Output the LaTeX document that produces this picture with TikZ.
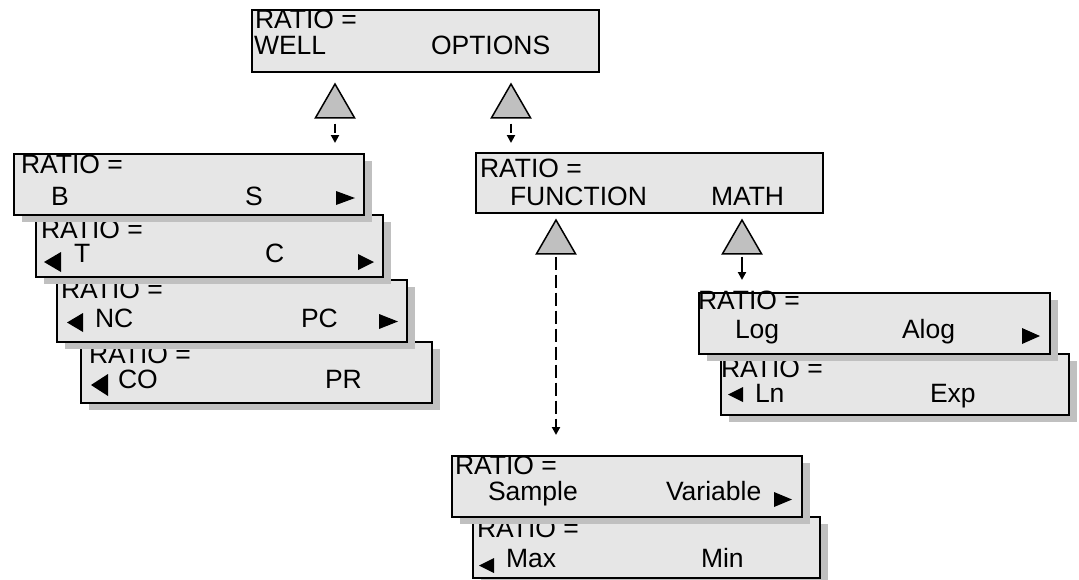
\documentclass[tikz,border=0pt]{standalone}
\usepackage{fontspec}
\setmainfont{Liberation Sans}
\usetikzlibrary{shapes.geometric,shadows,arrows.meta}

\definecolor{panelfill}{RGB}{230,230,230}
\definecolor{shadowgray}{RGB}{192,192,192}
\definecolor{keyfill}{RGB}{192,192,192}

% scroll marks shown on the display panels
\newcommand\tipR[4]{\fill (#1,#2) -- ++(#3,#4/2) -- ++(-#3,#4/2) -- cycle;}
\newcommand\tipL[4]{\fill (#1,#2) -- ++(-#3,#4/2) -- ++(#3,#4/2) -- cycle;}

\tikzset{
  panel/.style={draw, line width=2pt, fill=panelfill, anchor=north west,
    inner sep=0pt, outer sep=0pt, minimum height=61pt},
  shadowed/.style={drop shadow={shadow xshift=8pt, shadow yshift=-7pt,
    fill=shadowgray, opacity=1}},
  lbl/.style={anchor=base west, inner sep=0pt, outer sep=0pt,
    font=\fontsize{26.5}{30}\selectfont},
  key/.style={regular polygon, regular polygon sides=3, minimum size=45pt,
    inner sep=0pt, draw, line width=1.5pt, fill=keyfill},
  shortlink/.style={line width=2pt, dash pattern=on 9pt off 3pt,
    -{Triangle[length=8pt,width=8pt]}},
  longlink/.style={line width=2pt, dash pattern=on 13pt off 5pt,
    -{Triangle[length=8pt,width=8pt]}},
  solidlink/.style={line width=2pt, -{Triangle[length=8pt,width=8pt]}}
}

\begin{document}
\begin{tikzpicture}[x=1pt,y=-1pt]
\useasboundingbox (0,0) rectangle (1079,579);

% top menu
\node[panel, minimum width=347pt, minimum height=62pt] (top) at (252,10) {};
\node[lbl] (topR) at (255,28) {RATIO =};
\node[lbl] (topW) at (254,54.5) {WELL};
\node[lbl] (topO) at (431,54.5) {OPTIONS};

\node[key] (kWell) at (335,106.5) {};
\node[key] (kOpt) at (511,106.5) {};
\coordinate (eWell) at (335,143);
\coordinate (eOpt) at (511,143);
\draw[shortlink] ([yshift=-5pt]kWell.south) -- (eWell);
\draw[shortlink] ([yshift=-5pt]kOpt.south) -- (eOpt);

% well selection panels, stacked
\node[panel, shadowed, minimum width=351pt] (pCO) at (81,342) {};
\node[lbl] (pCOr) at (89,363) {RATIO =};
\node[lbl] (pCOa) at (118,388) {CO};
\node[lbl] (pCOb) at (325,388) {PR};
\tipL{108}{374}{17}{22}

\node[panel, shadowed, minimum width=350pt, minimum height=62pt] (pNC) at (57,280) {};
\node[lbl] (pNCr) at (61,298) {RATIO =};
\node[lbl] (pNCa) at (95,327) {NC};
\node[lbl] (pNCb) at (301,327) {PC};
\tipL{83}{313}{16}{19}
\tipR{379}{314}{19}{15}

\node[panel, shadowed, minimum width=347pt, minimum height=62pt] (pT) at (36,215) {};
\node[lbl] (pTr) at (41,238) {RATIO =};
\node[lbl] (pTa) at (74,262) {T};
\node[lbl] (pTb) at (265,262) {C};
\tipL{61}{252}{17}{20}
\tipR{358}{254}{16}{16}

\node[panel, shadowed, minimum width=350pt] (pB) at (14,154) {};
\node[lbl] (pBr) at (21,173) {RATIO =};
\node[lbl] (pBa) at (51,205) {B};
\node[lbl] (pBb) at (245,205) {S};
\tipR{336}{191}{19}{14}

% options menu
\node[panel, minimum width=347pt, minimum height=60pt] (fn) at (476,153) {};
\node[lbl] (fnR) at (480,177) {RATIO =};
\node[lbl] (fnF) at (510,205) {FUNCTION};
\node[lbl] (fnM) at (711,205) {MATH};

\node[key] (kFn) at (556,242.5) {};
\node[key] (kMath) at (742,242.5) {};
\coordinate (eFn) at (556,435);
\coordinate (eMath) at (742,280);
\draw[longlink] ([yshift=-2pt]kFn.south) -- (eFn);
\draw[solidlink] ([yshift=-2pt]kMath.south) -- (eMath);

% math panels
\node[panel, shadowed, minimum width=348pt] (pLn) at (721,354) {};
\node[lbl] (pLnr) at (721,377) {RATIO =};
\node[lbl] (pLna) at (755,402) {Ln};
\node[lbl] (pLnb) at (930,402) {Exp};
\tipL{743}{387}{15}{15}

\node[panel, shadowed, minimum width=351pt] (pLog) at (699,293) {};
\node[lbl] (pLogr) at (698,309) {RATIO =};
\node[lbl] (pLoga) at (735,338) {Log};
\node[lbl] (pLogb) at (902,338) {Alog};
\tipR{1022}{328}{18}{16}

% function panels
\node[panel, shadowed, minimum width=347pt] (pMax) at (473,517) {};
\node[lbl] (pMaxr) at (477,537) {RATIO =};
\node[lbl] (pMaxa) at (506,567) {Max};
\node[lbl] (pMaxb) at (701,567) {Min};
\tipL{494}{558}{15}{15}

\node[panel, shadowed, minimum width=350pt] (pSam) at (452,456) {};
\node[lbl] (pSamr) at (455,474) {RATIO =};
\node[lbl] (pSama) at (488,500) {Sample};
\node[lbl] (pSamb) at (666,500) {Variable};
\tipR{774}{492}{18}{15}
\end{tikzpicture}
\end{document}
